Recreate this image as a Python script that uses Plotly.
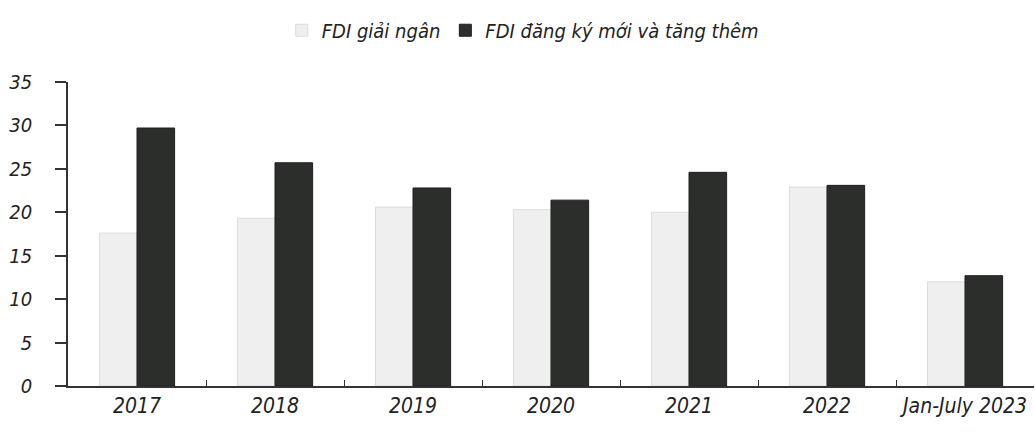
import plotly.graph_objects as go

categories = ["2017", "2018", "2019", "2020", "2021", "2022", "Jan-July 2023"]
fdi_disbursed = [17.6, 19.3, 20.6, 20.3, 20.0, 22.9, 12.0]
fdi_registered = [29.7, 25.7, 22.8, 21.4, 24.6, 23.1, 12.7]
y_ticks = [0, 5, 10, 15, 20, 25, 30, 35]
series_names = ["FDI giải ngân", "FDI đăng ký mới và tăng thêm"]

FONT = "DejaVu Sans Condensed, Liberation Sans Narrow, Arial Narrow, sans-serif"

fig = go.Figure()
fig.add_trace(go.Bar(
    x=categories, y=fdi_disbursed, name=series_names[0],
    marker=dict(color="#efefef", line=dict(color="#dcdcdc", width=1)),
))
fig.add_trace(go.Bar(
    x=categories, y=fdi_registered, name=series_names[1],
    marker=dict(color="#2c2e2c", line=dict(color="#1e1e1e", width=1)),
))

fig.update_layout(
    width=1035, height=432,
    margin=dict(l=68, r=1, t=82, b=46, autoexpand=False),
    paper_bgcolor="white", plot_bgcolor="white",
    barmode="group", bargap=0.455, bargroupgap=0,
    font=dict(family=FONT, size=20, color="#222222"),
    showlegend=True,
    legend=dict(
        orientation="h", x=0.505, xanchor="center", xref="container",
        y=0.93, yanchor="middle", yref="container",
        font=dict(family=FONT, size=20, style="italic", color="#222222"),
        tracegroupgap=0, itemwidth=30,
    ),
    xaxis=dict(
        showline=True, linecolor="#333333", linewidth=1.5,
        ticks="inside", tickson="boundaries", ticklen=6, tickcolor="#333333",
        tickfont=dict(family=FONT, size=21, style="italic", color="#222222"),
        showgrid=False, zeroline=False, automargin=False,
    ),
    yaxis=dict(
        range=[0, 35], tickvals=y_ticks,
        showline=True, linecolor="#333333", linewidth=1.5,
        ticks="outside", ticklen=11, tickcolor="#333333", tickwidth=1.5,
        ticklabelstandoff=19,
        tickfont=dict(family=FONT, size=20, style="italic", color="#222222"),
        showgrid=False, zeroline=False, automargin=False,
    ),
    yaxis2=dict(
        range=[0, 35], tickvals=y_ticks, overlaying="y", side="left",
        showticklabels=False, ticks="inside", ticklen=9, tickcolor="#333333",
        tickwidth=1.5, showgrid=False, zeroline=False, showline=False,
        anchor="x",
    ),
)

fig.write_html(
    "out.html",
    config={"displayModeBar": False},
    post_script="document.body.style.margin='0';document.body.style.overflow='hidden';",
)
